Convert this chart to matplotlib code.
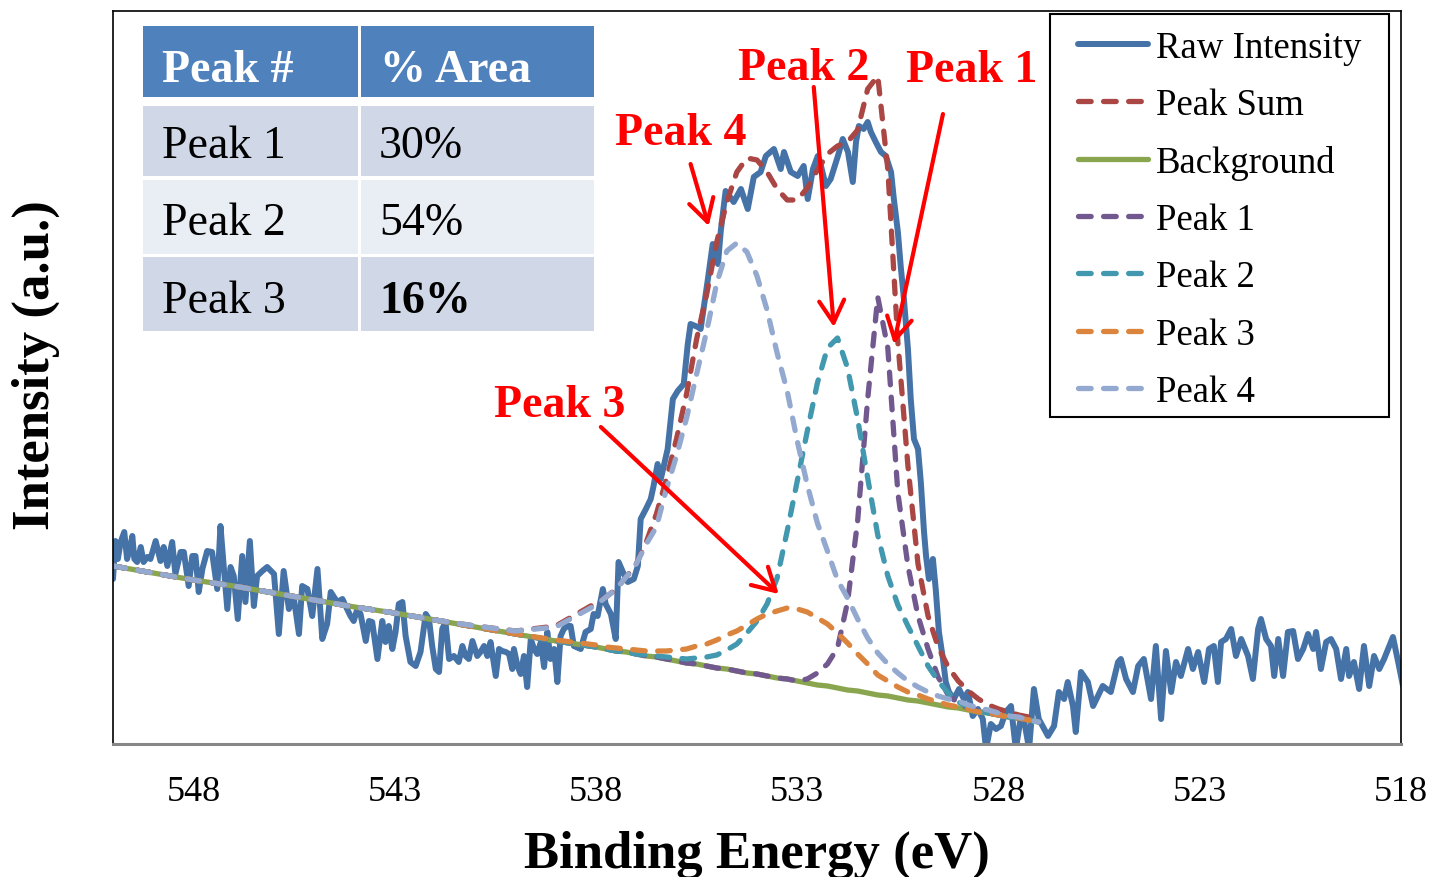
import numpy as np
import matplotlib.pyplot as plt
from matplotlib.patches import Rectangle

plt.rcParams['font.family'] = ['Liberation Serif', 'DejaVu Serif']

# ---- raw spectrum (binding energy in eV, intensity in a.u.)
raw_ev = [
    550.00, 549.94, 549.88, 549.81, 549.72, 549.65, 549.58, 549.52, 549.47, 549.40,
    549.31, 549.24, 549.15, 549.07, 548.94, 548.82, 548.74, 548.65, 548.53, 548.45,
    548.32, 548.24, 548.12, 548.03, 547.95, 547.87, 547.78, 547.66, 547.54, 547.41,
    547.33, 547.25, 547.16, 547.08, 547.00, 546.90, 546.79, 546.71, 546.60, 546.50,
    546.42, 546.29, 546.17, 546.00, 545.88, 545.76, 545.63, 545.51, 545.38, 545.30,
    545.17, 545.05, 544.92, 544.80, 544.68, 544.59,
    544.43, 544.30, 544.22, 544.10, 544.02, 543.93, 543.85, 543.72, 543.64, 543.56,
    543.43, 543.31, 543.23, 543.15, 543.06, 542.98, 542.90, 542.81, 542.73, 542.61,
    542.48, 542.36, 542.23, 542.15, 542.07, 541.98, 541.90, 541.82, 541.74, 541.65,
    541.53, 541.41, 541.32, 541.24, 541.16, 541.07, 540.95, 540.87, 540.78, 540.70,
    540.62, 540.49, 540.41, 540.33, 540.24, 540.16, 540.08, 540.04, 539.95, 539.87,
    539.79, 539.71, 539.62, 539.54, 539.46, 539.37, 539.29, 539.21, 539.13, 539.04,
    538.96, 538.88, 538.80, 538.71, 538.63,
    538.55, 538.38, 538.26, 538.13, 538.06, 537.96, 537.83, 537.76, 537.63, 537.51,
    537.44, 537.31, 537.21, 537.06, 536.96, 536.89, 536.76, 536.64, 536.57, 536.47,
    536.39, 536.22, 536.09, 535.97, 535.82, 535.72, 535.65, 535.47, 535.40, 535.22,
    535.10, 534.97, 534.90, 534.78, 534.58, 534.40, 534.23, 534.08, 533.91,
    533.78, 533.58, 533.41, 533.33, 533.16, 532.99, 532.84, 532.74, 532.61, 532.49,
    532.41, 532.29, 532.17, 531.99, 531.87, 531.74, 531.62, 531.54, 531.47, 531.35,
    531.25, 531.17, 531.05, 530.92, 530.80, 530.67, 530.60, 530.50, 530.43, 530.35,
    530.25,
    530.18, 530.10, 530.00, 529.93, 529.85, 529.80, 529.73, 529.63, 529.56, 529.48,
    529.38, 529.31, 529.23, 529.11, 528.98, 528.86, 528.76, 528.64, 528.51, 528.39,
    528.31, 528.19, 528.06,
    527.94, 527.82, 527.69, 527.57, 527.44, 527.37, 527.24, 527.12, 527.00, 526.77,
    526.62, 526.50, 526.37, 526.28, 526.15, 526.08, 525.95, 525.78, 525.65, 525.53,
    525.41, 525.21, 525.03, 524.96, 524.83, 524.66, 524.53, 524.39, 524.21, 524.09,
    523.96, 523.84, 523.71, 523.59, 523.47, 523.29, 523.17, 523.04, 522.89, 522.77,
    522.65, 522.55, 522.47, 522.35, 522.22, 522.10, 521.97, 521.80, 521.68, 521.55,
    521.48, 521.35, 521.23, 521.15, 521.05, 520.93, 520.81, 520.68, 520.56, 520.43,
    520.31, 520.18, 520.11, 519.99, 519.86, 519.74, 519.61, 519.49, 519.36, 519.29,
    519.17, 519.04, 518.92, 518.79, 518.67, 518.54, 518.42, 518.20, 518.07, 517.95,
]
raw_int = [
    165, 203, 185, 202, 212, 185, 195, 208, 185, 182,
    197, 182, 187, 185, 203, 183, 197, 178, 202, 170,
    192, 192, 158, 188, 188, 152, 175, 193, 192, 155,
    218, 178, 135, 177, 168, 125, 188, 142, 203, 138,
    168, 173, 177, 170, 110, 173, 135, 147, 110, 158,
    155, 128, 175, 105, 120, 152,
    142, 145, 138, 128, 123, 135, 130, 103, 123, 122,
    85, 123, 102, 118, 95, 112, 140, 142, 108, 82,
    78, 92, 130, 125, 98, 75, 72, 115, 122, 85,
    88, 82, 98, 88, 85, 103, 88, 92, 98, 88,
    102, 68, 95, 93, 92, 90, 75, 95, 78, 70,
    88, 57, 105, 95, 90, 102, 77, 112, 85, 95,
    62, 108, 115, 118, 118,
    98, 95, 112, 115, 130, 128, 155, 140, 130, 105,
    182, 170, 162, 165, 178, 225, 235, 245, 258, 280,
    265, 295, 345, 353, 360, 400, 420, 417, 415, 465,
    500, 480, 513, 553, 542, 555, 535, 567, 572,
    588, 595, 575, 592, 572, 568, 578, 545, 575, 588,
    578, 558, 565, 588, 605, 592, 562, 602, 618, 615,
    622, 612, 602, 592, 588, 572, 545, 512, 478, 445,
    395,
    345, 305, 295, 262, 212, 188, 165, 185, 155, 112,
    85, 62, 52, 45, 55, 45, 52, 28, 35, 25,
    -5, 20, 15,
    18, 32, 38, -5, 28, 25, -5, 55, 25, 8,
    18, 52, 45, 62, 38, 12, 72, 62, 38, 48,
    58, 52, 82, 85, 65, 52, 78, 85, 45, 98,
    25, 93, 52, 82, 68, 95, 75, 92, 62, 95,
    98, 62, 102, 105, 115, 88, 105, 88, 65, 115,
    125, 105, 98, 68, 105, 68, 112, 113, 85, 95,
    110, 95, 112, 75, 102, 105, 95, 65, 95, 68,
    82, 55, 98, 58, 88, 75, 85, 107, 82, 58,
]

# ---- fitted curves on the fit grid
fit_ev = [550, 549, 548, 547, 546, 545, 544, 543, 542, 541, 540, 539, 538,
          537.75, 537.5, 537.25, 537.0, 536.75, 536.5, 536.25, 536.0,
          535.75, 535.5, 535.25, 535.0, 534.75, 534.5, 534.25, 534.0,
          533.75, 533.5, 533.25, 533.0, 532.75, 532.5, 532.25, 532.0,
          531.75, 531.5, 531.25, 531.0, 530.75, 530.5, 530.25, 530.0,
          529.75, 529.5, 529.25, 529.0, 528.75, 528.5, 528.25, 528.0,
          527.75, 527.5, 527.25, 527.0]
background = [178, 171, 164, 158, 151, 144, 137, 131, 124, 117, 110, 103, 97,
              95, 93, 92, 90, 88, 87, 85, 83, 81, 80, 78, 76, 75, 73, 71, 70,
              68, 66, 65, 63, 61, 59, 58, 56, 54, 53, 51, 49, 48, 46, 44, 43,
              41, 39, 37, 36, 34, 32, 31, 29, 27, 26, 24, 22]
# components, as height above the background
peak1 = [0] * 13 + [0] * 19 + [0, 4, 12, 22, 40, 88, 170, 294, 398, 348, 205, 134, 85,
                               54, 28, 12, 5, 2, 1, 0, 0, 0, 0, 0, 0]
peak2 = [0] * 13 + [0, 0, 0, 0, 1, 1, 2, 3, 4, 6, 9, 13, 19, 27, 40, 53,
                    72, 100, 148, 200, 252, 302, 338, 350, 322, 272, 215, 160,
                    120, 93, 74, 55, 37, 24, 14, 6, 3, 1, 0, 0, 0, 0, 0, 0]
peak3 = [0] * 11 + [1, 2] + [2, 3, 3, 4, 5, 6, 8, 11, 14, 18, 22, 28, 34, 40, 48, 55,
                             62, 67, 71, 72, 71, 67, 62, 55, 47, 37, 29, 20,
                             15, 11, 8, 6, 4, 3, 2, 1, 1, 0, 0, 0, 0, 0, 0, 0]
peak4 = [0] * 9 + [1, 3, 14, 42] + [52, 62, 75, 90, 112, 130, 170, 205, 245, 290, 335, 385,
                                    418, 428, 421, 398, 366, 325, 288, 240, 198, 162, 135, 108,
                                    92, 72, 55, 42, 32, 25, 19, 14, 11, 9, 8, 7,
                                    5, 4, 3, 2, 1, 1, 0, 0]
peak_sum = [178, 171, 164, 158, 151, 144, 137, 131, 124, 118, 113, 118, 141,
            147, 155, 167, 180, 202, 230, 265, 305, 350, 405, 450, 502,
            542, 572, 586, 584, 572, 555, 544, 544, 556, 574, 590, 598,
            602, 614, 655, 668, 575, 402, 278, 180, 128, 97, 77, 63,
            53, 45, 39, 35, 32, 29, 27, 25]

tick_ev = [548, 543, 538, 533, 528, 523, 518]

table_header = ['Peak #', '% Area']
table_peak = ['Peak 1', 'Peak 2', 'Peak 3']
table_area = ['30%', '54%', '16%']

W, H = 1429, 878
fig = plt.figure(figsize=(W / 100, H / 100), dpi=100)
ax = fig.add_axes([113 / W, 1 - 745 / H, 1288 / W, 733 / H])

bg = np.array(background)
dash = dict(linestyle='--', dashes=(2.4, 2.35), dash_capstyle='round', lw=3.8)

ax.plot(raw_ev, raw_int, color='#4572A7', lw=4.3, solid_joinstyle='round',
        solid_capstyle='round', label='Raw Intensity')
ax.plot(fit_ev, peak_sum, color='#AA4643', label='Peak Sum', **dash)
ax.plot(fit_ev, bg, color='#89A54E', lw=3.8, solid_capstyle='round', label='Background')
ax.plot(fit_ev, bg + np.array(peak1), color='#71588F', label='Peak 1', **dash)
ax.plot(fit_ev, bg + np.array(peak2), color='#4198AF', label='Peak 2', **dash)
ax.plot(fit_ev, bg + np.array(peak3), color='#DB843D', label='Peak 3', **dash)
ax.plot(fit_ev, bg + np.array(peak4), color='#93A9CF', label='Peak 4', **dash)

ax.set_xlim(550, 518)
ax.set_ylim(0, 733)
ax.set_xticks(tick_ev)
ax.set_yticks([])
ax.tick_params(axis='x', length=0, labelsize=26, pad=22)
for side in ['left', 'top', 'right']:
    ax.spines[side].set_color('black')
    ax.spines[side].set_linewidth(1.2)
ax.spines['bottom'].set_color('#868686')
ax.spines['bottom'].set_linewidth(2.2)

fig.text(757 / W, 1 - 868 / H, 'Binding Energy (eV)', ha='center', va='baseline',
         fontsize=38, fontweight='bold')
fig.text(36 / W, 1 - 365 / H, 'Intensity (a.u.)', ha='center', va='center',
         rotation=90, fontsize=38, fontweight='bold')

# legend: entries without frame, frame drawn as its own box
leg = ax.legend(loc='upper left', bbox_to_anchor=(1078 / W, 1 - 31 / H),
                bbox_transform=fig.transFigure, fontsize=26.5, frameon=False,
                handlelength=1.9, handletextpad=0.22, labelspacing=0.62,
                borderpad=0, borderaxespad=0)
fig.add_artist(Rectangle((1050 / W, 1 - 418 / H), 339 / W, 403 / H,
                         transform=fig.transFigure, facecolor='none',
                         edgecolor='black', lw=1.5, zorder=5))

# callouts
red = '#FF0000'
callouts = [
    ('Peak 1', (530.30, 663), (529.38, 630), (530.60, 400)),
    ('Peak 2', (534.48, 665), (532.59, 657), (532.09, 417)),
    ('Peak 4', (537.54, 600), (535.65, 580), (535.20, 518)),
    ('Peak 3', (540.54, 328), (537.88, 317), (533.46, 150)),
]
for label, txt_pos, tail, head in callouts:
    ax.text(txt_pos[0], txt_pos[1], label, color=red, fontsize=33, fontweight='bold',
            ha='left', va='baseline')
    ax.annotate('', xy=head, xytext=tail,
                arrowprops=dict(arrowstyle='->,head_length=0.8,head_width=0.45',
                                color=red, lw=3, shrinkA=0, shrinkB=0, mutation_scale=20))

# table of peak areas
def box(x0, y0, x1, y1, color):
    fig.add_artist(Rectangle((x0 / W, 1 - y1 / H), (x1 - x0) / W, (y1 - y0) / H,
                             transform=fig.transFigure, facecolor=color, edgecolor='none'))

cols = [(143, 358), (361, 594)]
rows = [(107, 177), (181, 255), (258, 332)]
row_colors = ['#D0D8E8', '#E9EDF4', '#D0D8E8']
baselines = [158, 235, 313]
for c, (x0, x1) in enumerate(cols):
    box(x0, 27, x1, 98, '#4F81BD')
    fig.text((x0 + 19) / W, 1 - 82 / H, table_header[c], color='white', fontsize=33,
             fontweight='bold', va='baseline')
for r, (y0, y1) in enumerate(rows):
    for c, (x0, x1) in enumerate(cols):
        box(x0, y0, x1, y1, row_colors[r])
    fig.text(162 / W, 1 - baselines[r] / H, table_peak[r], fontsize=33, va='baseline')
    fig.text(379 / W, 1 - baselines[r] / H, table_area[r], fontsize=33, va='baseline',
             fontweight='bold' if r == 2 else 'normal')

fig.savefig('out.png', dpi=100)
